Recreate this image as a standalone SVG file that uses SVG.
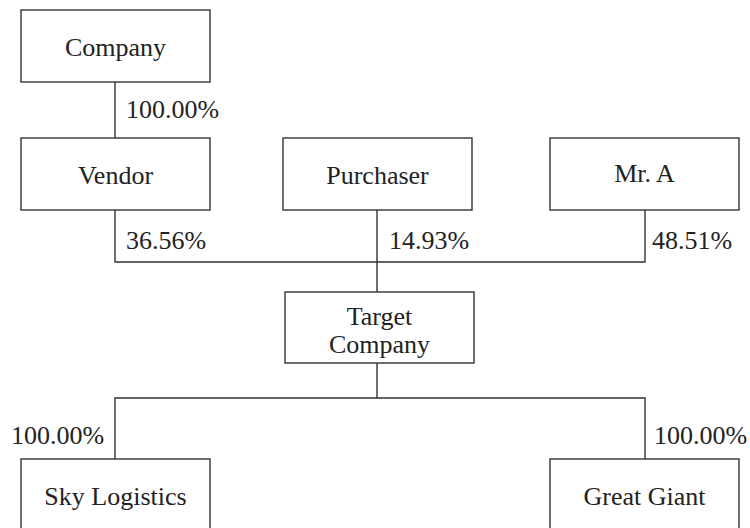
<svg xmlns="http://www.w3.org/2000/svg" width="750" height="528" viewBox="0 0 750 528">
<style>
.box{fill:#fff;stroke:#333;stroke-width:1.4}
.ln{fill:none;stroke:#333;stroke-width:1.4}
text{font-family:'Liberation Serif','Times New Roman','DejaVu Serif',serif;font-size:26px;fill:#222}
.c{text-anchor:middle}
</style>
<rect width="750" height="528" fill="#fff"/>
<g id="connectors">
<path class="ln" d="M115 82V138"/>
<path class="ln" d="M115 210V262H645V210"/>
<path class="ln" d="M377 210V292"/>
<path class="ln" d="M377 363V398"/>
<path class="ln" d="M115 459V398H645V459"/>
<text x="126" y="118">100.00%</text>
<text x="126" y="249">36.56%</text>
<text x="389" y="249">14.93%</text>
<text x="652" y="249">48.51%</text>
<text x="11" y="444">100.00%</text>
<text x="654" y="444">100.00%</text>
</g>
<g id="company"><rect class="box" x="21" y="10" width="189" height="72"/><text class="c" x="115.5" y="56">Company</text></g>
<g id="vendor"><rect class="box" x="21" y="138" width="189" height="72"/><text class="c" x="115.5" y="184">Vendor</text></g>
<g id="purchaser"><rect class="box" x="283" y="138" width="189" height="72"/><text class="c" x="377.5" y="184">Purchaser</text></g>
<g id="mr-a"><rect class="box" x="550" y="138" width="189" height="72"/><text class="c" x="644.5" y="182">Mr. A</text></g>
<g id="target-company"><rect class="box" x="285" y="292" width="189" height="71"/><text class="c" x="379.5" y="325">Target</text><text class="c" x="379.5" y="353">Company</text></g>
<g id="sky-logistics"><rect class="box" x="21" y="459" width="189" height="80"/><text class="c" x="115.5" y="505">Sky Logistics</text></g>
<g id="great-giant"><rect class="box" x="550" y="459" width="189" height="80"/><text class="c" x="644.5" y="505">Great Giant</text></g>
</svg>
